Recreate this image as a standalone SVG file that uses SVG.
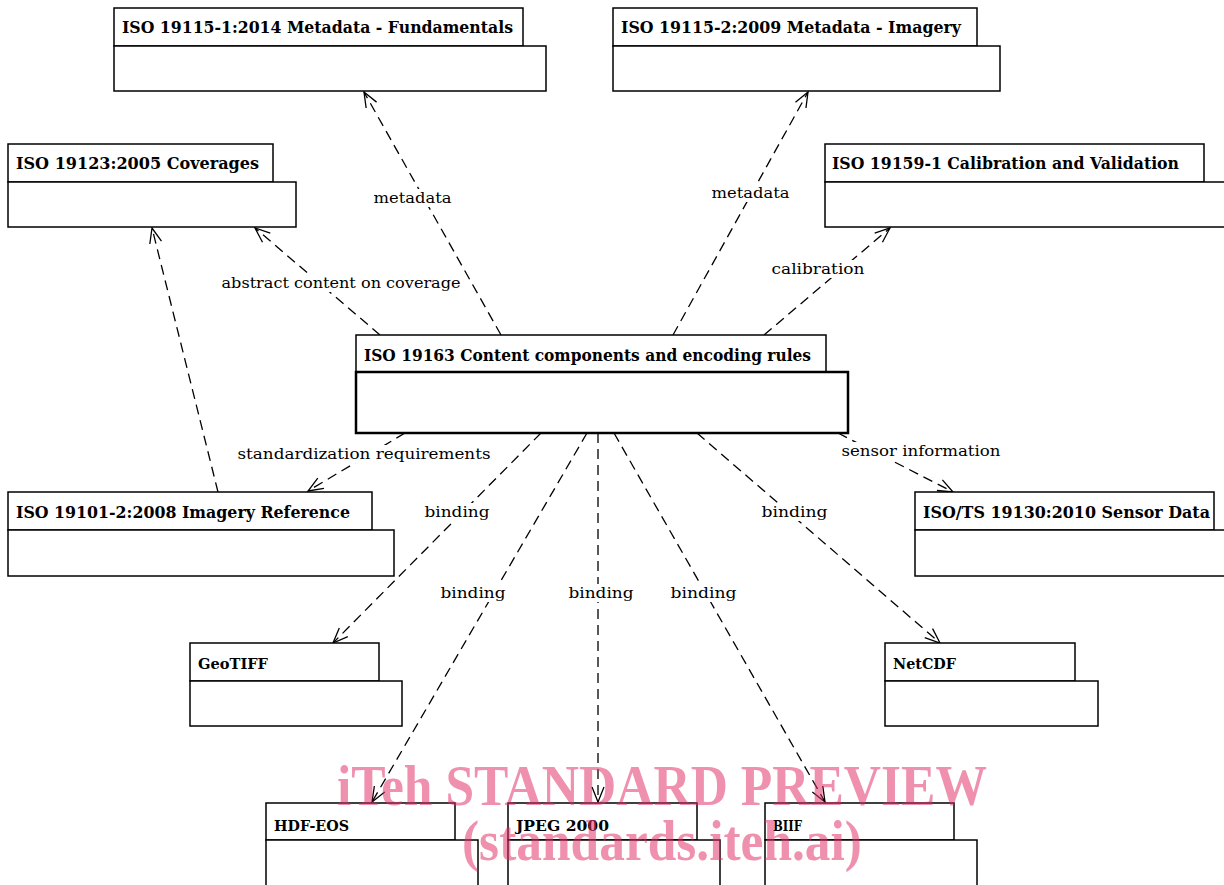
<svg xmlns="http://www.w3.org/2000/svg" width="1224" height="885" viewBox="0 0 1224 885">
<style>
.box{fill:#fff;stroke:#000;stroke-width:1.5}
.bodyc{fill:#fff;stroke:#000;stroke-width:2.5}
.t{font-family:"DejaVu Serif","Liberation Serif",serif;font-weight:bold;font-size:16px;fill:#000}
.ts{font-family:"DejaVu Serif","Liberation Serif",serif;font-weight:bold;font-size:15px;fill:#000}
.lbl{font-family:"DejaVu Serif","Liberation Serif",serif;font-size:15px;fill:#000;text-anchor:middle}
.bg{fill:#fff;stroke:none}
.dep{fill:none;stroke:#000;stroke-width:1.3;stroke-dasharray:10 6;marker-end:url(#ah)}
.wm{font-family:"Liberation Serif",serif;font-weight:bold;font-size:56px;fill:#e12d67;fill-opacity:0.53;text-anchor:middle}
</style>
<defs>
<marker id="ah" markerWidth="20" markerHeight="14" refX="16" refY="7" orient="auto" markerUnits="userSpaceOnUse" overflow="visible">
<path d="M1,1 L16,7 L1,13" fill="none" stroke="#000" stroke-width="1.3" stroke-dasharray="none"/>
</marker>
</defs>
<rect width="1224" height="885" fill="#fff"/>

<g id="connectors">
<line class="dep" x1="501" y1="335" x2="364" y2="92"/>
<line class="dep" x1="673" y1="335" x2="808" y2="92"/>
<line class="dep" x1="380" y1="335" x2="255" y2="228"/>
<line class="dep" x1="764" y1="335" x2="890" y2="228"/>
<line class="dep" x1="218" y1="492" x2="152" y2="228"/>
<line class="dep" x1="405" y1="433" x2="308" y2="491"/>
<line class="dep" x1="838" y1="433" x2="953" y2="492"/>
<line class="dep" x1="541" y1="433" x2="333" y2="643"/>
<line class="dep" x1="587" y1="433" x2="372" y2="802"/>
<line class="dep" x1="598" y1="433" x2="598" y2="802"/>
<line class="dep" x1="614" y1="433" x2="825" y2="802"/>
<line class="dep" x1="697" y1="433" x2="940" y2="643"/>
<g id="labels">
<rect class="bg" x="373" y="189" width="79" height="18"/>
<text class="lbl" x="412.5" y="203" textLength="78" lengthAdjust="spacingAndGlyphs">metadata</text>
<rect class="bg" x="711" y="184" width="79" height="18"/>
<text class="lbl" x="750.5" y="198" textLength="78" lengthAdjust="spacingAndGlyphs">metadata</text>
<rect class="bg" x="221" y="274" width="240" height="18"/>
<text class="lbl" x="341" y="288" textLength="239" lengthAdjust="spacingAndGlyphs">abstract content on coverage</text>
<rect class="bg" x="771" y="260" width="94" height="18"/>
<text class="lbl" x="818" y="274" textLength="93" lengthAdjust="spacingAndGlyphs">calibration</text>
<rect class="bg" x="237" y="445" width="254" height="18"/>
<text class="lbl" x="364" y="459" textLength="253" lengthAdjust="spacingAndGlyphs">standardization requirements</text>
<rect class="bg" x="841" y="442" width="160" height="18"/>
<text class="lbl" x="921" y="456" textLength="159" lengthAdjust="spacingAndGlyphs">sensor information</text>
<rect class="bg" x="424" y="503" width="66" height="18"/>
<text class="lbl" x="457" y="517" textLength="65" lengthAdjust="spacingAndGlyphs">binding</text>
<rect class="bg" x="440" y="584" width="66" height="18"/>
<text class="lbl" x="473" y="598" textLength="65" lengthAdjust="spacingAndGlyphs">binding</text>
<rect class="bg" x="568" y="584" width="66" height="18"/>
<text class="lbl" x="601" y="598" textLength="65" lengthAdjust="spacingAndGlyphs">binding</text>
<rect class="bg" x="670" y="584" width="67" height="18"/>
<text class="lbl" x="703.5" y="598" textLength="66" lengthAdjust="spacingAndGlyphs">binding</text>
<rect class="bg" x="761" y="503" width="67" height="18"/>
<text class="lbl" x="794.5" y="517" textLength="66" lengthAdjust="spacingAndGlyphs">binding</text>
</g>
</g>

<g id="iso19115-1">
<rect class="box" x="114" y="8" width="409" height="38"/>
<rect class="box" x="114" y="46" width="432" height="45"/>
<text class="t" x="122" y="33" textLength="391" lengthAdjust="spacingAndGlyphs">ISO 19115-1:2014 Metadata - Fundamentals</text>
</g>
<g id="iso19115-2">
<rect class="box" x="613" y="8" width="364" height="38"/>
<rect class="box" x="613" y="46" width="387" height="45"/>
<text class="t" x="621" y="33" textLength="340" lengthAdjust="spacingAndGlyphs">ISO 19115-2:2009 Metadata - Imagery</text>
</g>
<g id="iso19123">
<rect class="box" x="8" y="144" width="265" height="38"/>
<rect class="box" x="8" y="182" width="288" height="45"/>
<text class="t" x="16" y="169" textLength="243" lengthAdjust="spacingAndGlyphs">ISO 19123:2005 Coverages</text>
</g>
<g id="iso19159-1">
<rect class="box" x="825" y="144" width="379" height="38"/>
<rect class="box" x="825" y="182" width="410" height="45"/>
<text class="t" x="832" y="169" textLength="347" lengthAdjust="spacingAndGlyphs">ISO 19159-1 Calibration and Validation</text>
</g>
<g id="iso19163">
<rect class="box" x="356" y="335" width="470" height="37"/>
<rect class="bodyc" x="356" y="372" width="492" height="61"/>
<text class="t" x="364" y="361" textLength="447" lengthAdjust="spacingAndGlyphs">ISO 19163 Content components and encoding rules</text>
</g>
<g id="iso19101-2">
<rect class="box" x="8" y="492" width="364" height="38"/>
<rect class="box" x="8" y="530" width="386" height="46"/>
<text class="t" x="16" y="518" textLength="334" lengthAdjust="spacingAndGlyphs">ISO 19101-2:2008 Imagery Reference</text>
</g>
<g id="iso19130">
<rect class="box" x="915" y="492" width="299" height="38"/>
<rect class="box" x="915" y="530" width="320" height="46"/>
<text class="t" x="923" y="518" textLength="287" lengthAdjust="spacingAndGlyphs">ISO/TS 19130:2010 Sensor Data</text>
</g>
<g id="geotiff">
<rect class="box" x="190" y="643" width="189" height="38"/>
<rect class="box" x="190" y="681" width="212" height="45"/>
<text class="ts" x="198" y="669" textLength="70" lengthAdjust="spacingAndGlyphs">GeoTIFF</text>
</g>
<g id="netcdf">
<rect class="box" x="885" y="643" width="190" height="38"/>
<rect class="box" x="885" y="681" width="213" height="45"/>
<text class="ts" x="893" y="669" textLength="63" lengthAdjust="spacingAndGlyphs">NetCDF</text>
</g>
<g id="hdf-eos">
<rect class="box" x="266" y="803" width="189" height="37"/>
<rect class="box" x="266" y="840" width="212" height="50"/>
<text class="ts" x="274" y="831" textLength="75" lengthAdjust="spacingAndGlyphs">HDF-EOS</text>
</g>
<g id="jpeg2000">
<rect class="box" x="508" y="803" width="189" height="37"/>
<rect class="box" x="508" y="840" width="212" height="50"/>
<text class="ts" x="516" y="831" textLength="93" lengthAdjust="spacingAndGlyphs">JPEG 2000</text>
</g>
<g id="biif">
<rect class="box" x="765" y="803" width="189" height="37"/>
<rect class="box" x="765" y="840" width="212" height="50"/>
<text class="ts" x="773" y="831" textLength="29" lengthAdjust="spacingAndGlyphs">BIIF</text>
</g>

<g id="watermark">
<text class="wm" x="662" y="805" textLength="650" lengthAdjust="spacingAndGlyphs">iTeh STANDARD PREVIEW</text>
<text class="wm" x="662" y="860" textLength="400" lengthAdjust="spacingAndGlyphs">(standards.iteh.ai)</text>
</g>
</svg>
